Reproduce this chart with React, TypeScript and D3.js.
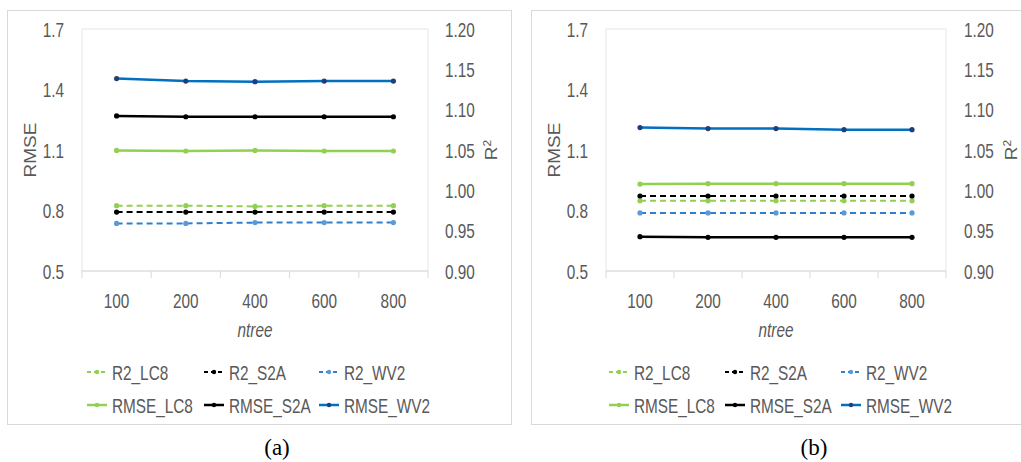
import React from "react";
import * as d3 from "d3";

const categories = ["100", "200", "400", "600", "800"];
const rmseTicks = [0.5, 0.8, 1.1, 1.4, 1.7];
const r2Ticks = [0.9, 0.95, 1.0, 1.05, 1.1, 1.15, 1.2];

// Panel (a)
const rmseLC8A = [1.098, 1.095, 1.098, 1.095, 1.095];
const rmseS2AA = [1.269, 1.265, 1.265, 1.265, 1.265];
const rmseWV2A = [1.454, 1.442, 1.439, 1.442, 1.442];
const r2LC8A = [0.981, 0.981, 0.98, 0.981, 0.981];
const r2S2AA = [0.973, 0.973, 0.973, 0.973, 0.973];
const r2WV2A = [0.959, 0.959, 0.96, 0.96, 0.96];

// Panel (b)
const rmseLC8B = [0.931, 0.933, 0.933, 0.933, 0.933];
const rmseS2AB = [0.67, 0.667, 0.667, 0.667, 0.667];
const rmseWV2B = [1.211, 1.206, 1.206, 1.201, 1.201];
const r2LC8B = [0.987, 0.987, 0.987, 0.987, 0.987];
const r2S2AB = [0.993, 0.993, 0.993, 0.993, 0.993];
const r2WV2B = [0.972, 0.972, 0.972, 0.972, 0.972];

const GREEN = "#92d050";
const BLACK = "#000000";
const BLUE = "#0070c0";
const BLUE_D = "#2e7fd0";
const NAVY = "#203f7a";
const LBLUE = "#5b9bd5";
const TXT = "#595959";
const FONT = "'Liberation Sans', Arial, sans-serif";
const SX = 0.73;

type Series = {
  name: string;
  values: number[];
  axis: "rmse" | "r2";
  color: string;
  marker: string;
  dashed: boolean;
  width: number;
};

type Layout = {
  bx: number;
  bw: number;
  left: number;
  right: number;
  leftLabelX: number;
  rightLabelX: number;
  rmseTitleX: number;
  r2TitleX: number;
  legendX: number[];
  captionX: number;
  caption: string;
};

const TOP = 29;
const BOTTOM = 271;

function HText(props: { x: number; y: number; anchor?: string; size?: number; italic?: boolean; children: React.ReactNode }) {
  const { x, y, anchor = "start", size = 21, italic = false, children } = props;
  return (
    <text
      transform={`translate(${x},${y}) scale(${SX},1)`}
      textAnchor={anchor}
      fontSize={size}
      fontFamily={FONT}
      fontStyle={italic ? "italic" : "normal"}
      fill={TXT}
    >
      {children}
    </text>
  );
}

function Panel({ layout, series }: { layout: Layout; series: Series[] }) {
  const x = d3.scaleBand<string>().domain(categories).range([layout.left, layout.right]);
  const yR = d3.scaleLinear().domain([0.5, 1.7]).range([BOTTOM, TOP]);
  const y2 = d3.scaleLinear().domain([0.9, 1.2]).range([BOTTOM, TOP]);
  const cx = (c: string) => (x(c) as number) + x.bandwidth() / 2;
  const boundaries = [...categories.map((c) => x(c) as number), layout.right];

  const legendOrder = [
    series.filter((s) => s.axis === "r2"),
    series.filter((s) => s.axis === "rmse"),
  ];
  const legendRows = [372, 405];

  return (
    <g>
      <rect x={layout.bx + 0.5} y={10.5} width={layout.bw} height={414} fill="#fff" stroke="#d9d9d9" strokeWidth={1} />
      {/* plot area */}
      <rect x={layout.left} y={TOP} width={layout.right - layout.left} height={BOTTOM - TOP} fill="none" stroke="#e6e6e6" strokeWidth={1} />
      <line x1={layout.left} x2={layout.right} y1={BOTTOM} y2={BOTTOM} stroke="#d9d9d9" strokeWidth={1} />
      {boundaries.map((b, i) => (
        <line key={i} x1={b} x2={b} y1={BOTTOM} y2={BOTTOM + 7} stroke="#d9d9d9" strokeWidth={1} />
      ))}
      {/* left axis labels */}
      {rmseTicks.map((t) => (
        <HText key={t} x={layout.leftLabelX} y={yR(t) + 7.5} anchor="end">
          {d3.format(".1f")(t)}
        </HText>
      ))}
      {r2Ticks.map((t) => (
        <HText key={t} x={layout.rightLabelX} y={y2(t) + 7.5}>
          {d3.format(".2f")(t)}
        </HText>
      ))}
      {categories.map((c) => (
        <HText key={c} x={cx(c)} y={308} anchor="middle">
          {c}
        </HText>
      ))}
      <HText x={(layout.left + layout.right) / 2} y={337} anchor="middle" italic>
        ntree
      </HText>
      {/* axis titles */}
      <text
        transform={`translate(${layout.rmseTitleX + 7},150) rotate(-90) scale(1,0.85)`}
        textAnchor="middle"
        fontSize={19}
        fontFamily={FONT}
        fill={TXT}
      >
        RMSE
      </text>
      <text
        transform={`translate(${layout.r2TitleX + 7},150) rotate(-90) scale(1,0.85)`}
        textAnchor="middle"
        fontSize={19}
        fontFamily={FONT}
        fill={TXT}
      >
        R<tspan dy={-7} fontSize={12}>2</tspan>
      </text>
      {/* series */}
      {series.map((s) => {
        const ys = s.axis === "rmse" ? yR : y2;
        const line = d3
          .line<number>()
          .x((_, i) => cx(categories[i]))
          .y((v) => ys(v));
        return (
          <g key={s.name}>
            <path
              d={line(s.values) || ""}
              fill="none"
              stroke={s.color}
              strokeWidth={s.width}
              strokeDasharray={s.dashed ? "6,4" : undefined}
            />
            {s.values.map((v, i) => (
              <circle key={i} cx={cx(categories[i])} cy={ys(v)} r={2.6} fill={s.marker} />
            ))}
          </g>
        );
      })}
      {/* legend */}
      {legendOrder.map((row, ri) =>
        row.map((s, ci) => {
          const lx = layout.legendX[ci];
          const ly = legendRows[ri];
          return (
            <g key={s.name}>
              <line
                x1={lx}
                x2={lx + 20}
                y1={ly}
                y2={ly}
                stroke={s.color}
                strokeWidth={s.width}
                strokeDasharray={s.dashed ? "4,3" : undefined}
              />
              <circle cx={lx + 10} cy={ly} r={2.2} fill={s.marker} />
              <HText x={lx + 25} y={ly + 7.5}>
                {s.name}
              </HText>
            </g>
          );
        })
      )}
      <text
        x={layout.captionX}
        y={455}
        textAnchor="middle"
        fontSize={23}
        fontFamily="'Liberation Serif', 'Times New Roman', serif"
        fill="#000"
      >
        {layout.caption}
      </text>
    </g>
  );
}

function makeSeries(lc8: number[], s2a: number[], wv2: number[], rl: number[], rs: number[], rw: number[]): Series[] {
  return [
    { name: "R2_LC8", values: lc8, axis: "r2", color: GREEN, marker: GREEN, dashed: true, width: 2 },
    { name: "R2_S2A", values: s2a, axis: "r2", color: BLACK, marker: BLACK, dashed: true, width: 2 },
    { name: "R2_WV2", values: wv2, axis: "r2", color: BLUE_D, marker: LBLUE, dashed: true, width: 2 },
    { name: "RMSE_LC8", values: rl, axis: "rmse", color: GREEN, marker: GREEN, dashed: false, width: 2.5 },
    { name: "RMSE_S2A", values: rs, axis: "rmse", color: BLACK, marker: BLACK, dashed: false, width: 2.5 },
    { name: "RMSE_WV2", values: rw, axis: "rmse", color: BLUE, marker: NAVY, dashed: false, width: 2.5 },
  ];
}

const layoutA: Layout = {
  bx: 7,
  bw: 504,
  left: 82,
  right: 428,
  leftLabelX: 64,
  rightLabelX: 445,
  rmseTitleX: 29,
  r2TitleX: 490,
  legendX: [87, 204, 319],
  captionX: 277,
  caption: "(a)",
};

const layoutB: Layout = {
  bx: 531,
  bw: 500,
  left: 606,
  right: 946,
  leftLabelX: 588,
  rightLabelX: 964,
  rmseTitleX: 553,
  r2TitleX: 1010,
  legendX: [609, 725, 841],
  captionX: 814,
  caption: "(b)",
};

export default function App() {
  return (
    <svg
      width={1021}
      height={462}
      style={{ position: "absolute", left: 0, top: 0, background: "#fff" }}
    >
      <rect width={1021} height={462} fill="#fff" />
      <Panel layout={layoutA} series={makeSeries(r2LC8A, r2S2AA, r2WV2A, rmseLC8A, rmseS2AA, rmseWV2A)} />
      <Panel layout={layoutB} series={makeSeries(r2LC8B, r2S2AB, r2WV2B, rmseLC8B, rmseS2AB, rmseWV2B)} />
    </svg>
  );
}
